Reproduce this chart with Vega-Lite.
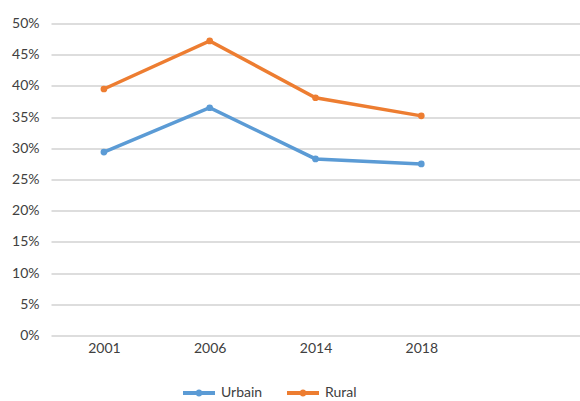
{
  "$schema": "https://vega.github.io/schema/vega-lite/v6.json",
  "width": 529,
  "height": 312,
  "autosize": {"type": "none"},
  "padding": {"left": 51, "top": 23.5, "right": 0, "bottom": 65.5},
  "background": "white",
  "config": {
    "view": {"stroke": null},
    "font": "Lato",
    "axis": {"labelFont": "Lato", "labelFontSize": 14, "labelColor": "#404040"}
  },
  "data": {
    "values": [
      {"year": "2001", "series": "Urbain", "value": 0.294},
      {"year": "2006", "series": "Urbain", "value": 0.365},
      {"year": "2014", "series": "Urbain", "value": 0.283},
      {"year": "2018", "series": "Urbain", "value": 0.275},
      {"year": "2001", "series": "Rural", "value": 0.395},
      {"year": "2006", "series": "Rural", "value": 0.472},
      {"year": "2014", "series": "Rural", "value": 0.381},
      {"year": "2018", "series": "Rural", "value": 0.352}
    ]
  },
  "encoding": {
    "x": {
      "field": "year", "type": "ordinal",
      "scale": {"type": "point", "domain": ["2001", "2006", "2014", "2018", " "], "padding": 0.5},
      "axis": {"title": null, "labelAngle": 0, "domain": false, "ticks": false, "labelPadding": 6, "grid": false}
    },
    "y": {
      "field": "value", "type": "quantitative",
      "scale": {"domain": [0, 0.5], "nice": false},
      "axis": {"title": null, "format": ".0%", "values": [0, 0.05, 0.1, 0.15, 0.2, 0.25, 0.3, 0.35, 0.4, 0.45, 0.5], "domain": false, "ticks": false, "labelPadding": 12, "gridColor": "#bcbcbc", "gridWidth": 1.2}
    },
    "color": {
      "field": "series", "type": "nominal",
      "scale": {"domain": ["Urbain", "Rural"], "range": ["#5b9bd5", "#ed7d31"]},
      "legend": {
        "title": null, "orient": "none", "direction": "horizontal",
        "legendX": 132, "legendY": 353.5,
        "symbolType": "M-1,-0.12H1V0.12H-1Z M-0.22,0A0.22,0.22 0 1,1 0.22,0A0.22,0.22 0 1,1 -0.22,0Z",
        "symbolSize": 1024, "symbolStrokeWidth": 0, "symbolOpacity": 1,
        "labelFont": "Lato", "labelFontSize": 14, "labelColor": "#404040", "labelOffset": 6, "columnPadding": 24
      }
    }
  },
  "layer": [
    {"mark": {"type": "line", "strokeWidth": 3.5}},
    {"mark": {"type": "point", "filled": true, "size": 45, "opacity": 1}}
  ]
}
